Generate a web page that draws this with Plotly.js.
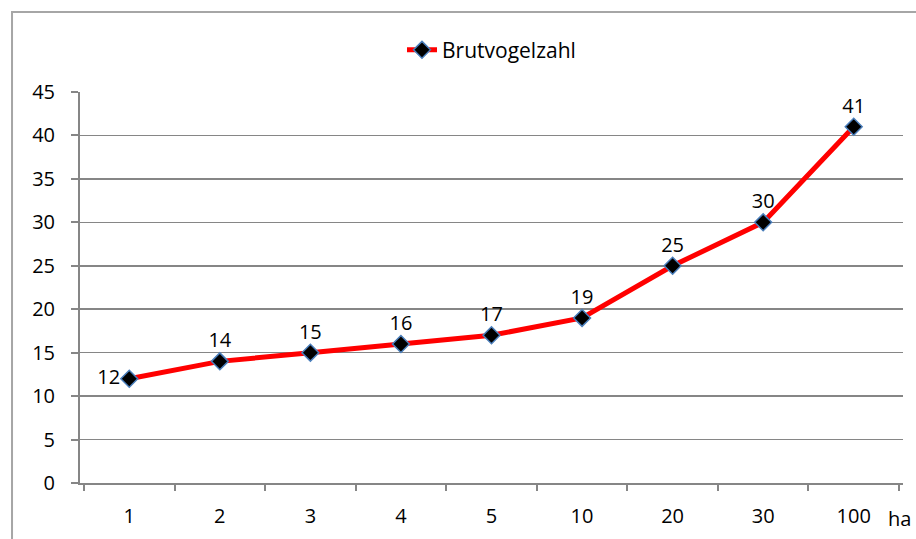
<!DOCTYPE html>
<html><head><meta charset="utf-8">
<script src="https://cdn.plot.ly/plotly-3.0.1.min.js"></script>
<style>html,body{margin:0;padding:0;background:#fff;}#chart{width:916px;height:539px;}</style>
</head><body><div id="chart"></div>
<script>
const categories = ["1","2","3","4","5","10","20","30","100"];
const brutvogelzahl = [12,14,15,16,17,19,25,30,41];
const labelPositions = ["middle left","top center","top center","top center","top center","top center","top center","top center","top center"];
const yTicks = [0,5,10,15,20,25,30,35,40,45];

const FONT = "Open Sans, Noto Sans, sans-serif";
const trace = {
  x: categories, y: brutvogelzahl, type: "scatter", mode: "lines+markers+text",
  name: "Brutvogelzahl",
  text: brutvogelzahl.map(String), textposition: labelPositions,
  textfont: {family: FONT, size: 20, color: "#000"},
  line: {color: "#ff0000", width: 5},
  marker: {symbol: "diamond", size: 13, color: "#000", line: {color: "#4a7ebb", width: 1.5}},
  cliponaxis: false
};
const layout = {
  width: 916, height: 539,
  margin: {l: 80, r: 13, t: 92, b: 56},
  paper_bgcolor: "#fff", plot_bgcolor: "#fff",
  font: {family: FONT, size: 20, color: "#000"},
  showlegend: true,
  legend: {orientation: "h", x: 0.5, xanchor: "center", y: 1.107, yanchor: "middle", font: {family: FONT, size: 21}},
  xaxis: {type: "category", tickson: "boundaries", ticks: "outside", ticklen: 6, tickcolor: "#868686", tickwidth: 2,
    showline: true, linecolor: "#868686", linewidth: 2, showgrid: false, ticklabelstandoff: 14,
    tickfont: {family: FONT, size: 20}, fixedrange: true},
  yaxis: {range: [0, 45], tickvals: yTicks, ticks: "outside", ticklen: 7, tickcolor: "#868686", tickwidth: 2,
    showline: true, linecolor: "#868686", linewidth: 2, showgrid: true, gridcolor: "#868686", gridwidth: 1.5,
    zeroline: false, ticklabelstandoff: 12, tickfont: {family: FONT, size: 20}},
  annotations: [{xref: "paper", yref: "paper", x: 0.996, y: -0.092, xanchor: "center", yanchor: "middle",
    text: "ha", showarrow: false, font: {family: FONT, size: 20}}],
  shapes: [{type: "rect", xref: "paper", yref: "paper", x0: -0.0826, x1: 1.03, y0: -0.2, y1: 1.2046,
    line: {color: "#a6a6a6", width: 2}, fillcolor: "rgba(0,0,0,0)", layer: "below"}]
};
Plotly.newPlot("chart", [trace], layout, {displayModeBar: false, staticPlot: true});
</script></body></html>
